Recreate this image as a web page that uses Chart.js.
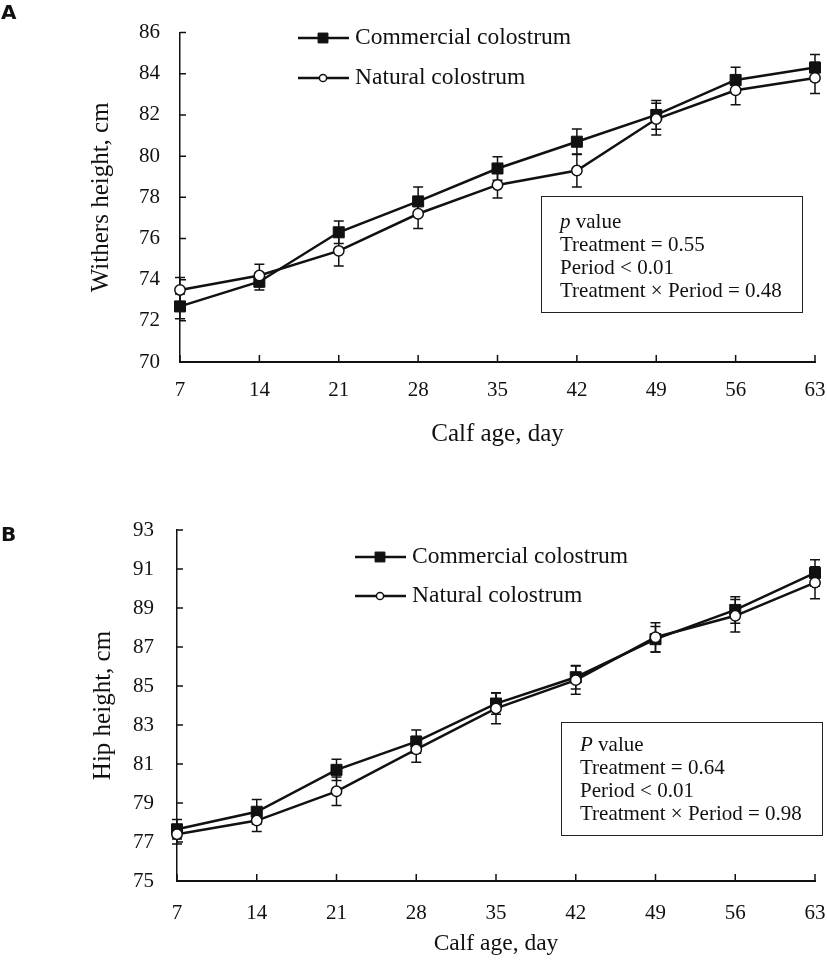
<!DOCTYPE html>
<html>
<head>
<meta charset="utf-8">
<script src="https://cdn.jsdelivr.net/npm/chart.js@4.4.1/dist/chart.umd.min.js"></script>
<style>
  body { margin: 0; background: #fff; }
  #wrap { position: relative; width: 827px; height: 961px; font-family: "Liberation Serif", serif; color: #111; }
  canvas { position: absolute; left: 0; }
  .tag { position: absolute; left: 1px; font-family: "DejaVu Sans", sans-serif; font-weight: bold; font-size: 20px; line-height: 20px; }
  .pbox { position: absolute; box-sizing: border-box; border: 1.5px solid #222; font-size: 21px; line-height: 23px; white-space: nowrap; }
</style>
</head>
<body>
<div id="wrap">
  <canvas id="chartA" width="827" height="480" style="top:0"></canvas>
  <canvas id="chartB" width="827" height="481" style="top:480px"></canvas>
  <div class="tag" style="top:2px">A</div>
  <div class="tag" style="top:524px">B</div>
  <div class="pbox" style="left:541px;top:196px;width:262px;height:117px;padding:13px 0 0 18px">
    <i>p</i> value<br>Treatment = 0.55<br>Period &lt; 0.01<br>Treatment &times; Period = 0.48
  </div>
  <div class="pbox" style="left:561px;top:722px;width:262px;height:114px;padding:10px 0 0 18px">
    <i>P</i> value<br>Treatment = 0.64<br>Period &lt; 0.01<br>Treatment &times; Period = 0.98
  </div>
</div>
<script>
// x categories, calf age in days
const days = ['7', '14', '21', '28', '35', '42', '49', '56', '63'];

// A: withers height, cm
const withersTicks = [70, 72, 74, 76, 78, 80, 82, 84, 86];
const withersCommercial = [72.7, 73.9, 76.3, 77.8, 79.4, 80.7, 82.0, 83.7, 84.3];
const withersCommercialSE = [0.6, 0.4, 0.55, 0.7, 0.57, 0.62, 0.7, 0.62, 0.64];
const withersNatural = [73.5, 74.2, 75.4, 77.2, 78.6, 79.3, 81.8, 83.2, 83.8];
const withersNaturalSE = [0.6, 0.55, 0.74, 0.72, 0.63, 0.8, 0.77, 0.7, 0.76];

// B: hip height, cm
const hipTicks = [75, 77, 79, 81, 83, 85, 87, 89, 91, 93];
const hipCommercial = [77.65, 78.55, 80.7, 82.15, 84.1, 85.45, 87.4, 88.9, 90.8];
const hipCommercialSE = [0.5, 0.63, 0.55, 0.6, 0.55, 0.6, 0.65, 0.68, 0.67];
const hipNatural = [77.4, 78.1, 79.6, 81.75, 83.85, 85.3, 87.5, 88.6, 90.3];
const hipNaturalSE = [0.5, 0.56, 0.73, 0.66, 0.79, 0.72, 0.75, 0.83, 0.82];

const INK = '#111';
const SERIF = 'Liberation Serif';

// +/- SE whiskers, drawn under the lines
const errorBars = {
    id: 'errorBars',
    beforeDatasetsDraw(chart) {
        const ctx = chart.ctx, y = chart.scales.y;
        ctx.save();
        ctx.strokeStyle = INK;
        ctx.lineWidth = 1.5;
        chart.data.datasets.forEach((ds, i) => {
            chart.getDatasetMeta(i).data.forEach((pt, j) => {
                const top = y.getPixelForValue(ds.data[j] + ds.errors[j]);
                const bot = y.getPixelForValue(ds.data[j] - ds.errors[j]);
                ctx.beginPath();
                ctx.moveTo(pt.x, top); ctx.lineTo(pt.x, bot);
                ctx.moveTo(pt.x - 5, top); ctx.lineTo(pt.x + 5, top);
                ctx.moveTo(pt.x - 5, bot); ctx.lineTo(pt.x + 5, bot);
                ctx.stroke();
            });
        });
        ctx.restore();
    }
};

// Excel style tick marks pointing into the plot
const innerTicks = {
    id: 'innerTicks',
    afterDraw(chart) {
        const { ctx, chartArea: a, scales: { x, y } } = chart;
        ctx.save();
        ctx.strokeStyle = INK;
        ctx.lineWidth = 1.5;
        ctx.beginPath();
        x.ticks.forEach((t, i) => {
            const px = x.getPixelForTick(i);
            ctx.moveTo(px, a.bottom); ctx.lineTo(px, a.bottom - 7);
        });
        y.ticks.forEach((t, i) => {
            const py = y.getPixelForTick(i);
            ctx.moveTo(a.left, py); ctx.lineTo(a.left + 6, py);
        });
        ctx.stroke();
        ctx.restore();
    }
};

// legend inside the plot: line + marker + label
const lineLegend = {
    id: 'lineLegend',
    afterDraw(chart, args, opts) {
        const ctx = chart.ctx;
        chart.data.datasets.forEach((ds, i) => {
            const x0 = opts.x, yy = opts.y + i * opts.gap;
            ctx.save();
            ctx.strokeStyle = INK;
            ctx.lineWidth = ds.borderWidth;
            ctx.beginPath();
            ctx.moveTo(x0, yy); ctx.lineTo(x0 + 51, yy);
            ctx.stroke();
            ctx.fillStyle = ds.pointBackgroundColor;
            ctx.lineWidth = ds.pointBorderWidth;
            Chart.helpers.drawPoint(ctx, {
                pointStyle: ds.pointStyle,
                radius: opts.markerRadius[i],
                borderWidth: ds.pointBorderWidth
            }, x0 + 25, yy);
            ctx.fillStyle = INK;
            ctx.font = opts.fontSize + 'px "' + SERIF + '"';
            ctx.textBaseline = 'middle';
            ctx.fillText(ds.label, x0 + 57, yy);
            ctx.restore();
        });
    }
};

function series(label, values, errors, filled) {
    return {
        label: label,
        data: values,
        errors: errors,
        borderColor: INK,
        borderWidth: 2.5,
        pointStyle: filled ? 'rect' : 'circle',
        pointRadius: filled ? 7.8 : 5.2,
        pointBackgroundColor: filled ? INK : '#fff',
        pointBorderColor: INK,
        pointBorderWidth: filled ? 1 : 1.5,
        tension: 0,
        clip: false,
        order: filled ? 1 : 0
    };
}

function makeChart(id, p) {
    return new Chart(document.getElementById(id), {
        type: 'line',
        data: {
            labels: days,
            datasets: [
                series('Commercial colostrum', p.commercial, p.commercialSE, true),
                series('Natural colostrum', p.natural, p.naturalSE, false)
            ]
        },
        options: {
            responsive: false,
            animation: false,
            layout: { padding: p.padding },
            plugins: {
                legend: { display: false },
                tooltip: { enabled: false },
                lineLegend: p.legend
            },
            scales: {
                x: {
                    type: 'category',
                    offset: false,
                    afterFit: s => {
                        s.height = p.xHeight;
                        s.paddingLeft = 0;
                        s.paddingRight = 0;
                    },
                    grid: { display: false, drawTicks: false },
                    border: { display: true, color: INK, width: 2 },
                    ticks: { color: INK, font: { family: SERIF, size: 21 }, padding: p.xPad, maxRotation: 0, autoSkip: false },
                    title: { display: true, text: 'Calf age, day', color: INK, font: { family: SERIF, size: p.xTitleSize }, padding: 0 }
                },
                y: {
                    min: p.ticks[0],
                    max: p.ticks[p.ticks.length - 1],
                    afterBuildTicks: s => { s.ticks = p.ticks.map(v => ({ value: v })); },
                    afterFit: s => { s.width = p.yWidth; },
                    grid: { display: false, drawTicks: false },
                    border: { display: true, color: INK, width: 1.5 },
                    ticks: { color: INK, font: { family: SERIF, size: 21 }, padding: p.yPad },
                    title: { display: true, text: p.yTitle, color: INK, font: { family: SERIF, size: 25 }, padding: { top: p.yTitleOff, bottom: 0 } }
                }
            }
        },
        plugins: [errorBars, innerTicks, lineLegend]
    });
}

makeChart('chartA', {
    commercial: withersCommercial, commercialSE: withersCommercialSE,
    natural: withersNatural, naturalSE: withersNaturalSE,
    ticks: withersTicks, yTitle: 'Withers height, cm',
    padding: { top: 15, right: 12, bottom: 31, left: 0 },
    xHeight: 87, xPad: 16, xTitleSize: 25,
    yWidth: 180, yPad: 20, yTitleOff: 86,
    legend: { x: 298, y: 38, gap: 40, fontSize: 23.5, markerRadius: [7, 3.6] }
});

makeChart('chartB', {
    commercial: hipCommercial, commercialSE: hipCommercialSE,
    natural: hipNatural, naturalSE: hipNaturalSE,
    ticks: hipTicks, yTitle: 'Hip height, cm',
    padding: { top: 50, right: 12, bottom: 3, left: 0 },
    xHeight: 77, xPad: 20, xTitleSize: 23.5,
    yWidth: 177, yPad: 23, yTitleOff: 88,
    legend: { x: 355, y: 77, gap: 39, fontSize: 23.5, markerRadius: [7, 3.6] }
});
</script>
</body>
</html>
